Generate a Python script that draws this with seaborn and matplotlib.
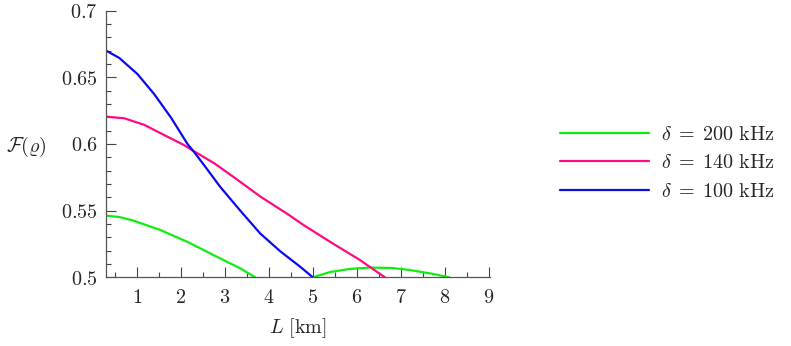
import numpy as np
import pandas as pd
import matplotlib
matplotlib.use("Agg")
import matplotlib.pyplot as plt
from matplotlib.ticker import FixedLocator, FuncFormatter
import seaborn as sns

# ---- data ----
L_100 = [0.30, 0.60, 1.01, 1.39, 1.77, 2.15, 2.30, 2.53, 2.89, 3.35, 3.80, 4.26, 4.71, 5.00]
F_100 = [0.670, 0.6645, 0.6525, 0.6375, 0.620, 0.600, 0.594, 0.584, 0.568, 0.550, 0.533, 0.5195, 0.508, 0.500]

L_140 = [0.30, 0.71, 1.17, 1.62, 2.07, 2.30, 2.76, 3.25, 3.81, 4.40, 4.80, 5.39, 6.07, 6.64]
F_140 = [0.6205, 0.6193, 0.6143, 0.6067, 0.5992, 0.5945, 0.5855, 0.574, 0.5605, 0.548, 0.539, 0.5267, 0.513, 0.500]

L_200a = [0.30, 0.60, 0.92, 1.53, 2.14, 2.74, 3.35, 3.69]
F_200a = [0.5462, 0.5452, 0.5425, 0.5355, 0.5267, 0.5167, 0.5067, 0.500]
L_200b = [5.00, 5.40, 5.85, 6.30, 6.80, 7.20, 7.74, 8.10]
F_200b = [0.500, 0.504, 0.5063, 0.5073, 0.507, 0.5055, 0.5025, 0.500]

labels = [r"$\delta\;=\;200\ \mathrm{kHz}$", r"$\delta\;=\;140\ \mathrm{kHz}$", r"$\delta\;=\;100\ \mathrm{kHz}$"]
colors = ["#10ee10", "#ff0a80", "#0a0aee"]
x_ticks = [1, 2, 3, 4, 5, 6, 7, 8, 9]
y_ticks = [0.5, 0.55, 0.6, 0.65, 0.7]

rows = []
for x, y in zip(L_200a, F_200a):
    rows.append((labels[0], "a", x, y))
for x, y in zip(L_200b, F_200b):
    rows.append((labels[0], "b", x, y))
for x, y in zip(L_140, F_140):
    rows.append((labels[1], "a", x, y))
for x, y in zip(L_100, F_100):
    rows.append((labels[2], "a", x, y))
df = pd.DataFrame(rows, columns=["series", "seg", "L", "F"])

sns.set_style("white")
plt.rcParams["mathtext.fontset"] = "cm"
plt.rcParams["font.family"] = ["DejaVu Serif"]

fig = plt.figure(figsize=(7.91, 3.46), dpi=100)
ax = fig.add_axes([106.2 / 791, 1 - 277.3 / 346, (489.5 - 106.2) / 791, (277.3 - 10.7) / 346])

sns.lineplot(data=df, x="L", y="F", hue="series", units="seg", estimator=None,
             hue_order=labels, palette=dict(zip(labels, colors)), sort=False,
             linewidth=1.6, ax=ax, legend=True)

ax.set_xlim(0.3, 9.02)
ax.set_ylim(0.5, 0.7)
ax.xaxis.set_major_locator(FixedLocator(x_ticks))
ax.xaxis.set_minor_locator(FixedLocator(np.arange(0.5, 9.0, 1.0)))
ax.yaxis.set_major_locator(FixedLocator(y_ticks))
ax.yaxis.set_minor_locator(FixedLocator([v / 100 for v in range(51, 70) if v % 5 != 0]))
ax.xaxis.set_major_formatter(FuncFormatter(lambda v, p: f"${v:g}$"))
ax.yaxis.set_major_formatter(FuncFormatter(lambda v, p: f"${v:g}$"))

for s in ["top", "right"]:
    ax.spines[s].set_visible(False)
for s in ["left", "bottom"]:
    ax.spines[s].set_color("#555555")
    ax.spines[s].set_linewidth(0.9)

ax.tick_params(which="both", bottom=True, left=True, top=False, right=False)
ax.tick_params(which="major", direction="in", length=7.2, width=0.8, color="#444444",
               labelsize=14.5, pad=6)
ax.tick_params(which="minor", direction="in", length=3.6, width=0.8, color="#444444")
ax.tick_params(axis="x", which="major", pad=8)
ax.set_xlabel("")
ax.set_ylabel("")

fig.text(298 / 791, 1 - 328 / 346, r"$L\ [\mathrm{km}]$", ha="center", va="center", fontsize=14.5)
fig.text(26 / 791, 1 - 147 / 346, r"$\mathcal{F}(\varrho)$", ha="center", va="center", fontsize=14.5)

leg = ax.get_legend()
handles = leg.legend_handles
leg.remove()
fig.legend(handles, labels, loc="center left", bbox_to_anchor=(552 / 791, 1 - 163 / 346),
           frameon=False, fontsize=14.5, handlelength=4.4, handletextpad=0.6, labelspacing=0.45,
           borderaxespad=0)

fig.savefig("out.png", dpi=100)
